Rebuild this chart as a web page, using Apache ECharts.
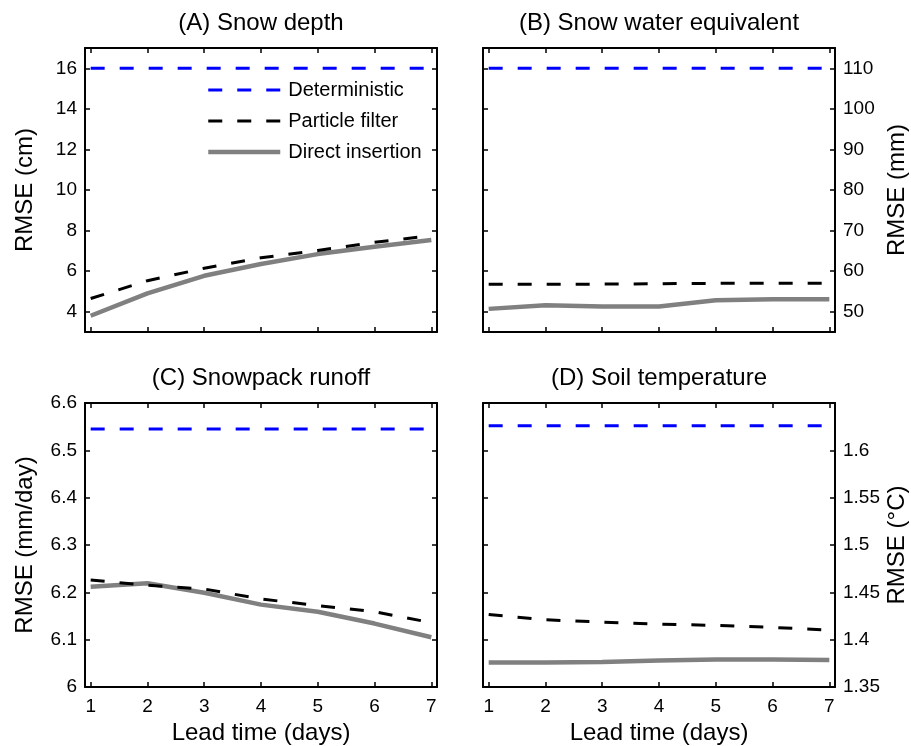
<!DOCTYPE html>
<html>
<head>
<meta charset="utf-8">
<script src="https://cdn.jsdelivr.net/npm/echarts@6/dist/echarts.min.js"></script>
<style>
html,body{margin:0;padding:0;background:#fff;}
#chart{width:911px;height:746px;}
</style>
</head>
<body>
<div id="chart"></div>
<script>
const days = [1, 2, 3, 4, 5, 6, 7];
const xTicks = [1, 2, 3, 4, 5, 6, 7];
const seriesNames = ['Deterministic', 'Particle filter', 'Direct insertion'];
const panelTitles = ['(A) Snow depth', '(B) Snow water equivalent', '(C) Snowpack runoff', '(D) Soil temperature'];
const yNames = ['RMSE (cm)', 'RMSE (mm)', 'RMSE (mm/day)', 'RMSE (°C)'];
const xName = 'Lead time (days)';

const depthDet = [16, 16, 16, 16, 16, 16, 16];
const depthPF = [4.65, 5.53, 6.14, 6.66, 7.02, 7.42, 7.75];
const depthDI = [3.8, 4.9, 5.77, 6.35, 6.84, 7.2, 7.53];
const depthTicks = [4, 6, 8, 10, 12, 14, 16];

const sweDet = [110, 110, 110, 110, 110, 110, 110];
const swePF = [56.8, 56.8, 56.8, 56.9, 57, 57, 57];
const sweDI = [50.7, 51.6, 51.3, 51.3, 52.8, 53.1, 53.1];
const sweTicks = [50, 60, 70, 80, 90, 100, 110];

const runoffDet = [6.545, 6.545, 6.545, 6.545, 6.545, 6.545, 6.545];
const runoffPF = [6.226, 6.215, 6.207, 6.186, 6.172, 6.159, 6.136];
const runoffDI = [6.212, 6.219, 6.199, 6.174, 6.159, 6.134, 6.105];
const runoffTicks = [6, 6.1, 6.2, 6.3, 6.4, 6.5, 6.6];

const soilDet = [1.626, 1.626, 1.626, 1.626, 1.626, 1.626, 1.626];
const soilPF = [1.4265, 1.421, 1.4185, 1.4165, 1.415, 1.413, 1.41];
const soilDI = [1.376, 1.376, 1.3765, 1.378, 1.379, 1.379, 1.3785];
const soilTicks = [1.35, 1.4, 1.45, 1.5, 1.55, 1.6];

const FONT = 'Liberation Sans, Arial, Helvetica, sans-serif';

const panels = [
  {det: depthDet, pf: depthPF, di: depthDI, ticks: depthTicks, min: 3, max: 17, left: 85, top: 48, side: 'left', xl: false},
  {det: sweDet, pf: swePF, di: sweDI, ticks: sweTicks, min: 45, max: 115, left: 483, top: 48, side: 'right', xl: false},
  {det: runoffDet, pf: runoffPF, di: runoffDI, ticks: runoffTicks, min: 6, max: 6.6, left: 85, top: 403, side: 'left', xl: true},
  {det: soilDet, pf: soilPF, di: soilDI, ticks: soilTicks, min: 1.35, max: 1.65, left: 483, top: 403, side: 'right', xl: true}
];

const W = 352, H = 284;
const grid = [], xAxis = [], yAxis = [], series = [], title = [];
const axLine = {show: true, onZero: false, lineStyle: {color: '#000', width: 2}};
const tick = (vals) => ({show: true, inside: true, length: 5, customValues: vals, lineStyle: {color: '#000', width: 1.5}});

panels.forEach((p, i) => {
  grid.push({left: p.left, top: p.top, width: W, height: H, containLabel: false, outerBoundsMode: 'none'});
  title.push({text: panelTitles[i], left: p.left + W / 2, top: p.top - 37, textAlign: 'center', padding: 0,
    textStyle: {fontFamily: FONT, fontSize: 24, fontWeight: 'normal', color: '#000'}});
  xAxis.push({type: 'value', gridIndex: i, position: 'bottom', min: 0.9, max: 7.1,
    axisLine: axLine, axisTick: tick(xTicks), splitLine: {show: false},
    axisLabel: {show: p.xl, customValues: xTicks, margin: 10, color: '#000', fontFamily: FONT, fontSize: 19},
    name: p.xl ? xName : '', nameLocation: 'middle', nameGap: 34,
    nameTextStyle: {fontFamily: FONT, fontSize: 24, color: '#000'}});
  xAxis.push({type: 'value', gridIndex: i, position: 'top', min: 0.9, max: 7.1,
    axisLine: axLine, axisTick: tick(xTicks), splitLine: {show: false}, axisLabel: {show: false}});
  const other = p.side === 'left' ? 'right' : 'left';
  yAxis.push({type: 'value', gridIndex: i, position: p.side, min: p.min, max: p.max,
    axisLine: axLine, axisTick: tick(p.ticks), splitLine: {show: false},
    axisLabel: {customValues: p.ticks, margin: 8, color: '#000', fontFamily: FONT, fontSize: 19},
    name: yNames[i], nameLocation: 'middle', nameRotate: 90, nameGap: p.side === 'left' ? 48 : 50,
    nameTextStyle: {fontFamily: FONT, fontSize: 24, color: '#000'}});
  yAxis.push({type: 'value', gridIndex: i, position: other, min: p.min, max: p.max,
    axisLine: axLine, axisTick: tick(p.ticks), splitLine: {show: false}, axisLabel: {show: false}});
  const xi = i * 2, yi = i * 2;
  const mk = (arr) => days.map((d, k) => [d, arr[k]]);
  series.push({name: seriesNames[2], type: 'line', xAxisIndex: xi, yAxisIndex: yi, data: mk(p.di),
    symbol: 'none', silent: true, lineStyle: {color: '#808080', width: 4.5, type: 'solid'}, itemStyle: {color: '#808080'}, z: 2});
  series.push({name: seriesNames[1], type: 'line', xAxisIndex: xi, yAxisIndex: yi, data: mk(p.pf),
    symbol: 'none', silent: true, lineStyle: {color: '#000', width: 3, type: [14, 15]}, itemStyle: {color: '#000'}, z: 3});
  series.push({name: seriesNames[0], type: 'line', xAxisIndex: xi, yAxisIndex: yi, data: mk(p.det),
    symbol: 'none', silent: true, lineStyle: {color: '#0000ff', width: 3, type: [14, 15]}, itemStyle: {color: '#0000ff'}, z: 4});
});

const chart = echarts.init(document.getElementById('chart'), null, {renderer: 'canvas'});
chart.setOption({
  animation: false,
  backgroundColor: '#fff',
  title: title,
  grid: grid,
  xAxis: xAxis,
  yAxis: yAxis,
  legend: {
    data: [
      {name: seriesNames[0], lineStyle: {width: 3, color: '#0000ff', type: [14, 15]}},
      {name: seriesNames[1], lineStyle: {width: 3, color: '#000', type: [14, 15]}},
      {name: seriesNames[2], lineStyle: {width: 4.5, color: '#808080', type: 'solid'}}
    ],
    orient: 'vertical', left: 206, top: 80, padding: 0,
    itemWidth: 72, itemHeight: 14, itemGap: 11, selectedMode: false,
    itemStyle: {opacity: 0},
    textStyle: {fontFamily: FONT, fontSize: 20, color: '#000', padding: [0, 0, 0, 3]},
    backgroundColor: 'rgba(0,0,0,0)'
  },
  series: series
});
</script>
</body>
</html>
